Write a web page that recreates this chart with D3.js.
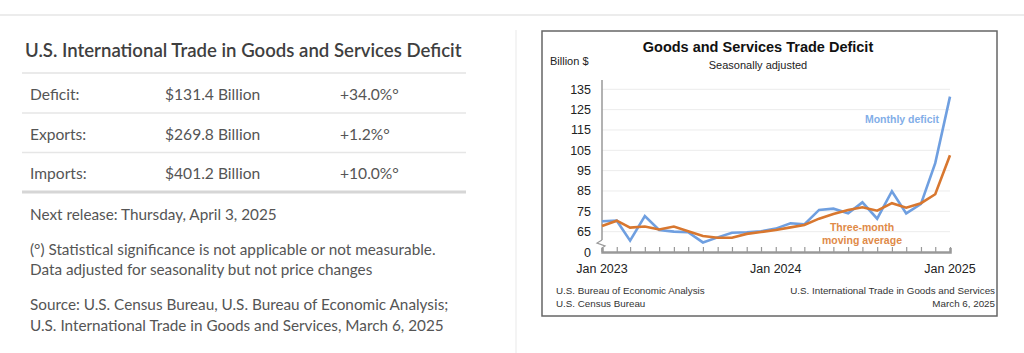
<!DOCTYPE html>
<html>
<head>
<meta charset="utf-8">
<script src="https://cdn.jsdelivr.net/npm/d3@7"></script>
<style>
  body { margin: 0; background: #fff; }
  svg { display: block; }
</style>
</head>
<body>
<div id="chart"></div>
<script>
// --- data ---
const months = d3.range(25).map(i => new Date(2023, i, 1));
const monthly = [70.1, 70.4, 60.6, 72.7, 65.8, 65.0, 64.7, 59.7, 62.2, 64.5, 64.7, 65.2,
                 66.5, 69.1, 68.6, 75.7, 76.3, 74.0, 79.4, 71.4, 84.9, 74.0, 78.6, 98.7, 131.4];
const movingAvg = [67.8, 70.4, 67.0, 67.5, 66.1, 67.5, 65.2, 62.9, 62.0, 62.0, 63.9, 64.8,
                   65.8, 67.1, 68.3, 71.4, 73.7, 75.7, 77.0, 75.3, 79.0, 76.8, 79.0, 83.4, 102.6];
const yTicks = [55, 65, 75, 85, 95, 105, 115, 125, 135];   // 55 is the broken-axis "0"
const xLabels = ["Jan 2023", "Jan 2024", "Jan 2025"];

const tableRows = ["Deficit:", "Exports:", "Imports:"];
const tableValues = ["$131.4 Billion", "$269.8 Billion", "$401.2 Billion"];
const tableChanges = ["+34.0%°", "+1.2%°", "+10.0%°"];

const W = 1024, H = 353;
const svg = d3.select("#chart").append("svg").attr("width", W).attr("height", H);

// page frame lines
svg.append("line").attr("x1", 0).attr("x2", W).attr("y1", 15).attr("y2", 15)
    .attr("stroke", "#e6e6e6").attr("stroke-width", 1.5);
svg.append("line").attr("x1", 516).attr("x2", 516).attr("y1", 30).attr("y2", H)
    .attr("stroke", "#f0f0f0").attr("stroke-width", 1.5);

// --- left panel ---
const lato = "Lato, 'Open Sans', sans-serif";
svg.append("text").attr("x", 25).attr("y", 57)
    .attr("font-family", lato).attr("font-size", 18.6).attr("font-weight", 600)
    .attr("fill", "#3f3f3f")
    .text("U.S. International Trade in Goods and Services Deficit");

svg.append("line").attr("x1", 22).attr("x2", 466).attr("y1", 73).attr("y2", 73)
    .attr("stroke", "#e3e3e3").attr("stroke-width", 1.5);

tableRows.forEach((r, i) => {
    const y = 100 + i * 39.5;
    const g = svg.append("g").attr("font-family", lato).attr("font-size", 15.6).attr("fill", "#555");
    g.append("text").attr("x", 30).attr("y", y).text(r);
    g.append("text").attr("x", 165).attr("y", y).text(tableValues[i]);
    g.append("text").attr("x", 340).attr("y", y).text(tableChanges[i]);
    svg.append("line").attr("x1", 22).attr("x2", 466)
        .attr("y1", 113 + i * 39.5).attr("y2", 113 + i * 39.5)
        .attr("stroke", i === 2 ? "#d6d6d6" : "#e6e6e6").attr("stroke-width", i === 2 ? 3 : 1.5);
});

const notes = [
    [30, 220, "Next release: Thursday, April 3, 2025"],
    [30, 255, "(°) Statistical significance is not applicable or not measurable."],
    [30, 275, "Data adjusted for seasonality but not price changes"],
    [30, 310, "Source: U.S. Census Bureau, U.S. Bureau of Economic Analysis;"],
    [30, 331, "U.S. International Trade in Goods and Services, March 6, 2025"]
];
svg.append("g").attr("font-family", lato).attr("font-size", 15.3).attr("fill", "#555")
    .selectAll("text").data(notes).join("text")
    .attr("x", d => d[0]).attr("y", d => d[1]).text(d => d[2]);

// --- chart box ---
svg.append("rect").attr("x", 542).attr("y", 31).attr("width", 455).attr("height", 285)
    .attr("fill", "#fff").attr("stroke", "#666").attr("stroke-width", 1.5);

const font = "'Liberation Sans', Arial, sans-serif";
svg.append("text").attr("x", 758).attr("y", 52).attr("text-anchor", "middle")
    .attr("font-family", font).attr("font-size", 14.5).attr("font-weight", "bold").attr("fill", "#111")
    .text("Goods and Services Trade Deficit");
svg.append("text").attr("x", 758).attr("y", 69).attr("text-anchor", "middle")
    .attr("font-family", font).attr("font-size", 11).attr("fill", "#222")
    .text("Seasonally adjusted");
svg.append("text").attr("x", 550).attr("y", 65)
    .attr("font-family", font).attr("font-size", 11).attr("fill", "#222")
    .text("Billion $");

const plot = {left: 602, right: 950, top: 89.3, bottom: 252};

const x = d3.scaleTime()
    .domain([months[0], months[24]])
    .range([plot.left, plot.right]);
const y = d3.scaleLinear()
    .domain([55, 135])
    .range([plot.bottom, plot.top]);

// gridlines
svg.append("g").selectAll("line").data(yTicks.slice(1)).join("line")
    .attr("x1", plot.left).attr("x2", plot.right)
    .attr("y1", d => y(d)).attr("y2", d => y(d))
    .attr("stroke", "#ececec").attr("stroke-width", 1);

// y axis
const yAxis = svg.append("g").attr("transform", `translate(${plot.left},0)`)
    .call(d3.axisLeft(y).tickValues(yTicks).tickSize(0).tickPadding(11)
        .tickFormat(d => d === 55 ? "0" : d));
yAxis.select(".domain").remove();
yAxis.selectAll("text").attr("font-family", font).attr("font-size", 12.5).attr("fill", "#222");

svg.append("line").attr("x1", plot.left).attr("x2", plot.left)
    .attr("y1", 80).attr("y2", 240).attr("stroke", "#999").attr("stroke-width", 1.5);
svg.append("path")
    .attr("d", `M${plot.left},240 L${plot.left - 5},243 L${plot.left + 3},246 L${plot.left},248 L${plot.left},${plot.bottom}`)
    .attr("fill", "none").attr("stroke", "#999").attr("stroke-width", 1.2);

// x axis
const xAxis = svg.append("g").attr("transform", `translate(0,${plot.bottom})`)
    .call(d3.axisTop(x).tickValues(months).tickSize(4).tickFormat(""));
xAxis.select(".domain").attr("stroke", "#999").attr("stroke-width", 2.5);
xAxis.selectAll(".tick line").attr("stroke", "#999").attr("stroke-width", 1.2);
xAxis.selectAll(".tick line").attr("y2", 0).attr("y1", -5);

svg.append("g").selectAll("text").data(xLabels).join("text")
    .attr("x", (d, i) => x(months[i * 12]))
    .attr("y", 273).attr("text-anchor", "middle")
    .attr("font-family", font).attr("font-size", 12.5).attr("fill", "#222")
    .text(d => d);

// lines
const line = d3.line().x((d, i) => x(months[i])).y(d => y(d));
svg.append("path").datum(monthly).attr("d", line)
    .attr("fill", "none").attr("stroke", "#6f9fe0").attr("stroke-width", 2.6)
    .attr("stroke-linejoin", "miter");
svg.append("path").datum(movingAvg).attr("d", line)
    .attr("fill", "none").attr("stroke", "#d8772f").attr("stroke-width", 2.6);

// series labels
svg.append("text").attr("x", 902).attr("y", 123).attr("text-anchor", "middle")
    .attr("font-family", font).attr("font-size", 10.5).attr("font-weight", "bold").attr("fill", "#82aee8")
    .text("Monthly deficit");
svg.append("text").attr("x", 862).attr("y", 231).attr("text-anchor", "middle")
    .attr("font-family", font).attr("font-size", 10.5).attr("font-weight", "bold").attr("fill", "#e08a48")
    .text("Three-month");
svg.append("text").attr("x", 862).attr("y", 244).attr("text-anchor", "middle")
    .attr("font-family", font).attr("font-size", 10.5).attr("font-weight", "bold").attr("fill", "#e08a48")
    .text("moving average");

// footer
const foot = svg.append("g").attr("font-family", font).attr("font-size", 9.8).attr("fill", "#333");
foot.append("text").attr("x", 556).attr("y", 294).text("U.S. Bureau of Economic Analysis");
foot.append("text").attr("x", 556).attr("y", 307).text("U.S. Census Bureau");
foot.append("text").attr("x", 995).attr("y", 294).attr("text-anchor", "end")
    .text("U.S. International Trade in Goods and Services");
foot.append("text").attr("x", 995).attr("y", 307).attr("text-anchor", "end").text("March 6, 2025");
</script>
</body>
</html>
